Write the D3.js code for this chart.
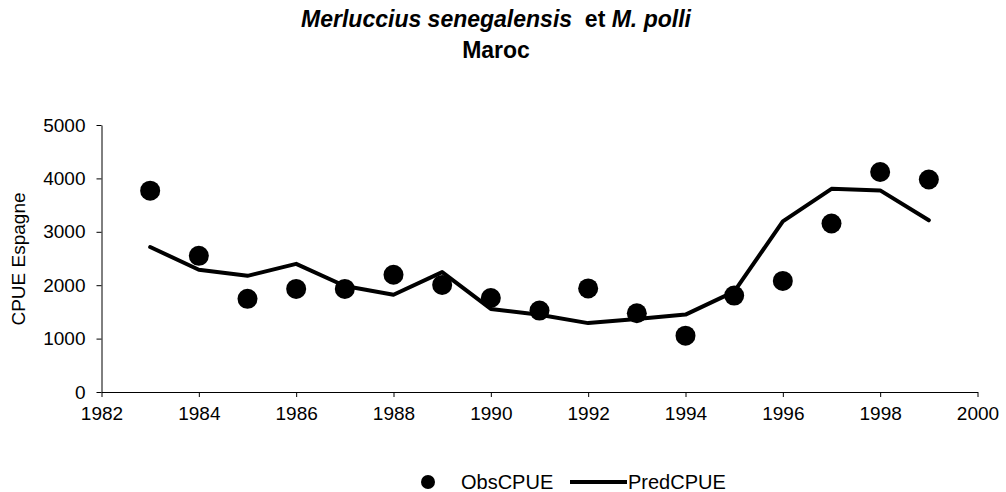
<!DOCTYPE html>
<html>
<head>
<meta charset="utf-8">
<script src="https://cdn.jsdelivr.net/npm/d3@7"></script>
<style>
  body { margin: 0; background: #fff; }
  svg { display: block; font-family: "Liberation Sans", Arial, sans-serif; }
</style>
</head>
<body>
<svg id="chart"></svg>
<script>
// data
const years = [1983, 1984, 1985, 1986, 1987, 1988, 1989, 1990, 1991, 1992, 1993, 1994, 1995, 1996, 1997, 1998, 1999]
const obsCPUE = [3770, 2550, 1745, 1930, 1930, 2195, 2005, 1760, 1525, 1940, 1475, 1055, 1805, 2080, 3155, 4120, 3980]
const predCPUE = [2715, 2290, 2175, 2400, 1985, 1820, 2245, 1555, 1445, 1290, 1365, 1450, 1880, 3195, 3805, 3775, 3215]
const xTicks = [1982, 1984, 1986, 1988, 1990, 1992, 1994, 1996, 1998, 2000]
const yTicks = [0, 1000, 2000, 3000, 4000, 5000]

const width = 1006
const height = 492

const svg = d3.select('#chart')
    .attr('width', width)
    .attr('height', height)

const x = d3.scaleLinear().domain([1982, 2000]).range([101.5, 977.5])
const y = d3.scaleLinear().domain([0, 5000]).range([392, 125])

// title
const title = svg.append('text')
    .attr('x', 496)
    .attr('y', 27)
    .attr('text-anchor', 'middle')
    .style('font-size', '23px')
    .style('font-weight', 'bold')
title.append('tspan').style('font-style', 'italic').text('Merluccius senegalensis')
title.append('tspan').attr('xml:space', 'preserve').text('  et ')
title.append('tspan').style('font-style', 'italic').text('M. polli')

svg.append('text')
    .attr('x', 496)
    .attr('y', 58)
    .attr('text-anchor', 'middle')
    .style('font-size', '23px')
    .style('font-weight', 'bold')
    .text('Maroc')

// axes
const yAxis = svg.append('g')
    .attr('transform', `translate(${x(1982)},0)`)
    .call(d3.axisLeft(y).tickValues(yTicks).tickFormat(d3.format('d')).tickSize(5).tickSizeOuter(0).tickPadding(11))
const xAxis = svg.append('g')
    .attr('transform', `translate(0,${y(0)})`)
    .call(d3.axisBottom(x).tickValues(xTicks).tickFormat(d3.format('d')).tickSize(5).tickSizeOuter(0).tickPadding(10))

svg.selectAll('.tick text')
    .style('font-size', '19px')
    .attr('fill', '#000')
    .style('font-family', '"Liberation Sans", Arial, sans-serif')
svg.selectAll('.domain, .tick line').attr('stroke', '#000')

svg.append('text')
    .attr('transform', 'translate(25,259) rotate(-90)')
    .attr('text-anchor', 'middle')
    .style('font-size', '19px')
    .text('CPUE Espagne')

// predicted line
const line = d3.line()
    .x((d, i) => x(years[i]))
    .y(d => y(d))

svg.append('path')
    .datum(predCPUE)
    .attr('d', line)
    .attr('fill', 'none')
    .attr('stroke', '#000')
    .attr('stroke-width', 4)
    .attr('stroke-linejoin', 'round')
    .attr('stroke-linecap', 'round')

// observed points
svg.append('g')
    .selectAll('circle')
    .data(obsCPUE)
    .join('circle')
    .attr('cx', (d, i) => x(years[i]))
    .attr('cy', d => y(d))
    .attr('r', 10)
    .attr('fill', '#000')

// legend
const legend = svg.append('g')
legend.append('circle').attr('cx', 428).attr('cy', 482).attr('r', 7).attr('fill', '#000')
legend.append('text').attr('x', 461).attr('y', 489).style('font-size', '20px').text('ObsCPUE')
legend.append('line').attr('x1', 570).attr('x2', 627).attr('y1', 482).attr('y2', 482)
    .attr('stroke', '#000').attr('stroke-width', 4)
legend.append('text').attr('x', 628).attr('y', 489).style('font-size', '20px').text('PredCPUE')
</script>
</body>
</html>
